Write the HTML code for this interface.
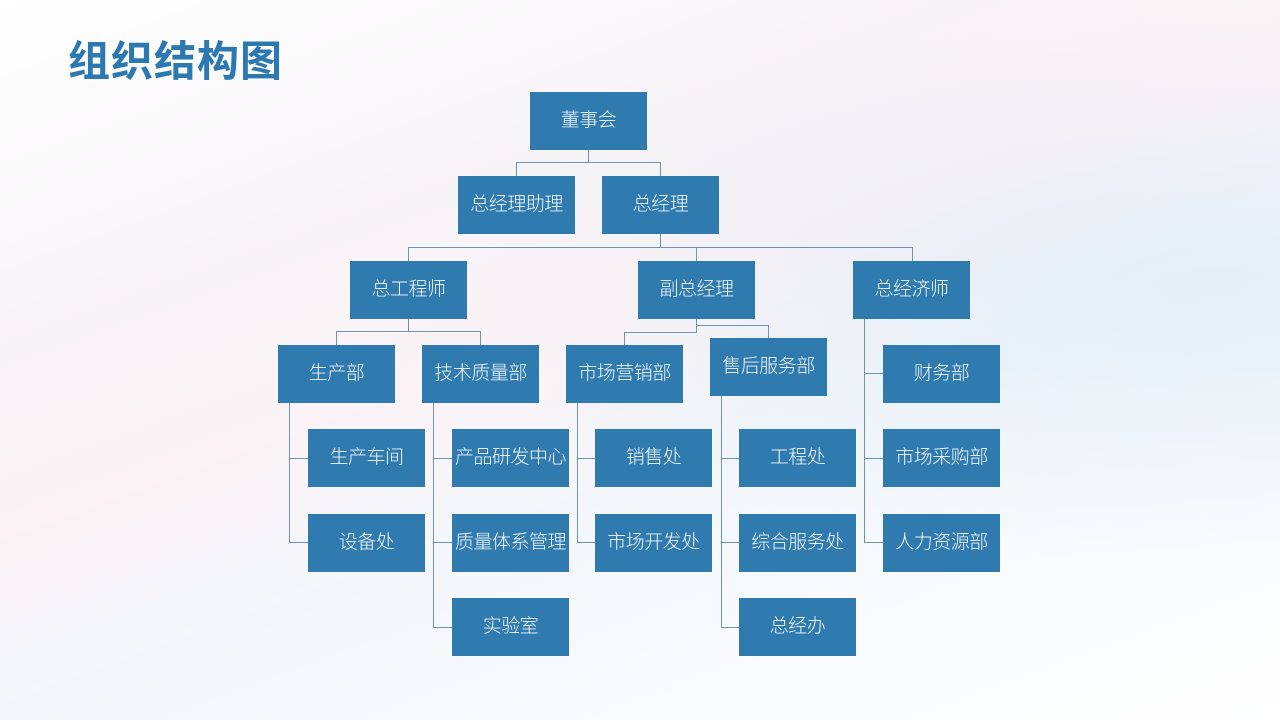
<!DOCTYPE html>
<html><head><meta charset="utf-8"><style>
body{margin:0;width:1280px;height:720px;overflow:hidden;position:relative;font-family:"Liberation Sans","Noto Sans CJK SC",sans-serif;
background:linear-gradient(160deg,#ffffff 0%,#f7f4f7 30%,#fbf3f6 45%,#f3f7fb 60%,#ffffff 100%);}
.t{position:absolute;left:68px;top:28px;font-size:42px;font-weight:bold;color:#2c78b0;letter-spacing:1px}
.b{position:absolute;width:117px;height:58px;box-sizing:border-box;padding-bottom:5px;background:#2f7aae;color:#f4f8fb;font-size:19px;font-weight:300;display:flex;align-items:center;justify-content:center;white-space:nowrap;letter-spacing:-0.5px}
.l{position:absolute;background:#6f93b3}
</style></head><body>
<div style="position:absolute;left:0;top:0;width:1280px;height:720px;background:radial-gradient(ellipse at 95% 40%,rgba(215,232,244,0.55) 0%,rgba(255,255,255,0) 45%)"></div>
<div class="t">组织结构图</div>
<!-- lines -->
<div class="l" style="left:588px;top:149px;width:1px;height:13px"></div>
<div class="l" style="left:516px;top:162px;width:145px;height:1px"></div>
<div class="l" style="left:516px;top:162px;width:1px;height:14px"></div>
<div class="l" style="left:660px;top:162px;width:1px;height:14px"></div>
<div class="l" style="left:660px;top:234px;width:1px;height:13px"></div>
<div class="l" style="left:408px;top:247px;width:505px;height:1px"></div>
<div class="l" style="left:408px;top:247px;width:1px;height:14px"></div>
<div class="l" style="left:696px;top:247px;width:1px;height:14px"></div>
<div class="l" style="left:912px;top:247px;width:1px;height:14px"></div>
<div class="l" style="left:408px;top:318px;width:1px;height:13px"></div>
<div class="l" style="left:336px;top:331px;width:145px;height:1px"></div>
<div class="l" style="left:336px;top:331px;width:1px;height:14px"></div>
<div class="l" style="left:480px;top:331px;width:1px;height:14px"></div>
<div class="l" style="left:696px;top:318px;width:1px;height:14px"></div>
<div class="l" style="left:696px;top:325px;width:73px;height:1px"></div>
<div class="l" style="left:768px;top:325px;width:1px;height:13px"></div>
<div class="l" style="left:624px;top:332px;width:73px;height:1px"></div>
<div class="l" style="left:624px;top:332px;width:1px;height:13px"></div>
<!-- spines -->
<div class="l" style="left:289px;top:402px;width:1px;height:140px"></div>
<div class="l" style="left:289px;top:458px;width:19px;height:1px"></div>
<div class="l" style="left:289px;top:542px;width:19px;height:1px"></div>
<div class="l" style="left:433px;top:402px;width:1px;height:225px"></div>
<div class="l" style="left:433px;top:458px;width:19px;height:1px"></div>
<div class="l" style="left:433px;top:542px;width:19px;height:1px"></div>
<div class="l" style="left:433px;top:627px;width:19px;height:1px"></div>
<div class="l" style="left:577px;top:402px;width:1px;height:140px"></div>
<div class="l" style="left:577px;top:458px;width:18px;height:1px"></div>
<div class="l" style="left:577px;top:542px;width:18px;height:1px"></div>
<div class="l" style="left:721px;top:395px;width:1px;height:232px"></div>
<div class="l" style="left:721px;top:458px;width:18px;height:1px"></div>
<div class="l" style="left:721px;top:542px;width:18px;height:1px"></div>
<div class="l" style="left:721px;top:627px;width:18px;height:1px"></div>
<div class="l" style="left:864px;top:318px;width:1px;height:224px"></div>
<div class="l" style="left:864px;top:373px;width:19px;height:1px"></div>
<div class="l" style="left:864px;top:458px;width:19px;height:1px"></div>
<div class="l" style="left:864px;top:542px;width:19px;height:1px"></div>
<!-- boxes -->
<div class="b" style="left:530px;top:92px">董事会</div>
<div class="b" style="left:458px;top:176px">总经理助理</div>
<div class="b" style="left:602px;top:176px">总经理</div>
<div class="b" style="left:350px;top:261px">总工程师</div>
<div class="b" style="left:638px;top:261px">副总经理</div>
<div class="b" style="left:853px;top:261px">总经济师</div>
<div class="b" style="left:278px;top:345px">生产部</div>
<div class="b" style="left:422px;top:345px">技术质量部</div>
<div class="b" style="left:566px;top:345px">市场营销部</div>
<div class="b" style="left:710px;top:338px">售后服务部</div>
<div class="b" style="left:883px;top:345px">财务部</div>
<div class="b" style="left:308px;top:429px">生产车间</div>
<div class="b" style="left:452px;top:429px">产品研发中心</div>
<div class="b" style="left:595px;top:429px">销售处</div>
<div class="b" style="left:739px;top:429px">工程处</div>
<div class="b" style="left:883px;top:429px">市场采购部</div>
<div class="b" style="left:308px;top:514px">设备处</div>
<div class="b" style="left:452px;top:514px">质量体系管理</div>
<div class="b" style="left:595px;top:514px">市场开发处</div>
<div class="b" style="left:739px;top:514px">综合服务处</div>
<div class="b" style="left:883px;top:514px">人力资源部</div>
<div class="b" style="left:452px;top:598px">实验室</div>
<div class="b" style="left:739px;top:598px">总经办</div>
</body></html>
